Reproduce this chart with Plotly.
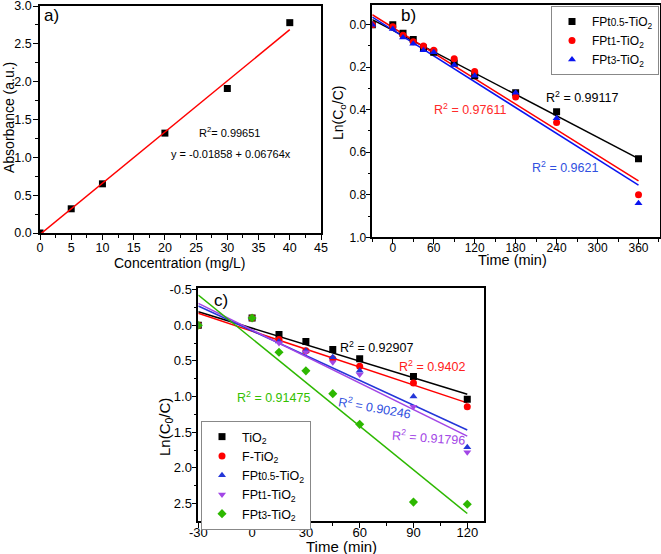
import plotly.graph_objects as go

W, H = 661, 554
FONT = "Liberation Sans, Arial, sans-serif"

# ---------------- data ----------------
# panel a: calibration
conc = [0, 5, 10, 20, 30, 40]
absorb = [0.0, 0.32, 0.65, 1.32, 1.91, 2.78]
fit_a = [-0.01858, 0.06764]          # intercept, slope
fit_a_x = [0, 40]

# panel b
time_b = [-30, 0, 15, 30, 45, 60, 90, 120, 180, 240, 360]
b_fpt05 = [0.0, 0.0, 0.04, 0.07, 0.11, 0.13, 0.18, 0.24, 0.32, 0.41, 0.63]
b_fpt1 = [0.0, 0.01, 0.05, 0.08, 0.10, 0.12, 0.16, 0.22, 0.34, 0.46, 0.80]
b_fpt3 = [0.0, 0.02, 0.06, 0.09, 0.12, 0.13, 0.19, 0.24, 0.32, 0.44, 0.84]
fit_b = {  # intercept, slope
    "FPt0.5": [0.0263, 0.001677],
    "FPt1": [0.0132, 0.002005],
    "FPt3": [0.0248, 0.002028],
}
fit_b_x = [-30, 360]
r2_b = ["0.99117", "0.97611", "0.9621"]

# panel c
time_c = [-30, 0, 15, 30, 45, 60, 90, 120]
c_tio2 = [0.0, -0.10, 0.13, 0.23, 0.34, 0.47, 0.72, 1.04]
c_ftio2 = [0.0, -0.10, 0.20, 0.36, 0.47, 0.575, 0.81, 1.145]
c_fpt05 = [0.0, -0.10, 0.23, 0.36, 0.45, 0.64, 1.00, 1.71]
c_fpt1 = [0.0, -0.10, 0.25, 0.38, 0.52, 0.69, 1.145, 1.78]
c_fpt3 = [0.0, -0.10, 0.38, 0.64, 0.96, 1.39, 2.48, 2.51]
fit_c = {  # intercept, slope
    "TiO2": [0.042, 0.00771],
    "F-TiO2": [0.085, 0.00837],
    "FPt0.5": [0.079, 0.01159],
    "FPt1": [0.066, 0.01241],
    "FPt3": [0.19, 0.02042],
}
fit_c_x = [-30, 120]
r2_c = ["0.92907", "0.9402", "0.90246", "0.91796", "0.91475"]

# tick values for panel c (labels written with a plain hyphen as in the original)
c_xticks = [-30, 0, 30, 60, 90, 120]
c_yticks = [-0.5, 0.0, 0.5, 1.0, 1.5, 2.0, 2.5]

# ---------------- helpers ----------------
def px(x):
    return x / W

def py(y):
    return 1 - y / H

def line_y(params, xs):
    return [params[0] + params[1] * x for x in xs]

BLACK = "#000000"
RED = "#FF0000"
BLUE = "#0A14F0"
BLUE_C = "#2436D8"
PURPLE = "#A246E6"
GREEN = "#2DB800"

fig = go.Figure()

# ---- panel a ----
fig.add_trace(go.Scatter(x=conc, y=absorb, mode="markers", xaxis="x", yaxis="y",
                         marker=dict(symbol="square", size=7, color=BLACK), showlegend=False))
fig.add_trace(go.Scatter(x=fit_a_x, y=line_y(fit_a, fit_a_x), mode="lines", xaxis="x", yaxis="y",
                         line=dict(color=RED, width=1.5), showlegend=False))

# ---- panel b ----
SM = "<span style='font-size:10px'>%s</span>"
lab_b = ["FPt" + SM % "0.5" + "-TiO<sub>2</sub>",
         "FPt" + SM % "1" + "-TiO<sub>2</sub>",
         "FPt" + SM % "3" + "-TiO<sub>2</sub>"]
ser_b = [b_fpt05, b_fpt1, b_fpt3]
col_b = [BLACK, RED, BLUE]
sym_b = ["square", "circle", "triangle-up"]
keys_b = ["FPt0.5", "FPt1", "FPt3"]
for i in range(3):
    fig.add_trace(go.Scatter(x=fit_b_x, y=line_y(fit_b[keys_b[i]], fit_b_x), mode="lines",
                             xaxis="x2", yaxis="y2", line=dict(color=col_b[i], width=1.5),
                             showlegend=False))
for i in range(3):
    fig.add_trace(go.Scatter(x=time_b, y=ser_b[i], mode="markers", xaxis="x2", yaxis="y2",
                             name=lab_b[i], legend="legend",
                             marker=dict(symbol=sym_b[i], size=7, color=col_b[i])))

# ---- panel c ----
lab_c = ["TiO<sub>2</sub>", "F-TiO<sub>2</sub>",
         "FPt" + SM % "0.5" + "-TiO<sub>2</sub>",
         "FPt" + SM % "1" + "-TiO<sub>2</sub>",
         "FPt" + SM % "3" + "-TiO<sub>2</sub>"]
ser_c = [c_tio2, c_ftio2, c_fpt05, c_fpt1, c_fpt3]
col_c = [BLACK, RED, BLUE_C, PURPLE, GREEN]
sym_c = ["square", "circle", "triangle-up", "triangle-down", "diamond"]
keys_c = ["TiO2", "F-TiO2", "FPt0.5", "FPt1", "FPt3"]
for i in range(5):
    fig.add_trace(go.Scatter(x=fit_c_x, y=line_y(fit_c[keys_c[i]], fit_c_x), mode="lines",
                             xaxis="x3", yaxis="y3", line=dict(color=col_c[i], width=1.5),
                             showlegend=False))
for i in range(5):
    fig.add_trace(go.Scatter(x=time_c, y=ser_c[i], mode="markers", xaxis="x3", yaxis="y3",
                             name=lab_c[i], legend="legend2",
                             marker=dict(symbol=sym_c[i], size=7, color=col_c[i])))

def axis(domain, rng, dtick, minor, fmt, fs, anchor, standoff=0, tick0=0):
    d = dict(domain=domain, range=rng, dtick=dtick, tick0=tick0, anchor=anchor,
             showgrid=False, zeroline=False, showline=True, linecolor="black", linewidth=1.5,
             mirror=True, ticks="outside", ticklen=5, tickwidth=1.3, tickcolor="black",
             automargin=False, ticklabeloverflow="allow", ticklabelstandoff=standoff,
             tickfont=dict(family=FONT, size=fs, color="black"),
             minor=dict(dtick=minor, tick0=tick0, ticks="outside", ticklen=3, tickwidth=1,
                        tickcolor="black"))
    if fmt:
        d["tickformat"] = fmt
    return d

xaxis3 = axis([px(198.3), px(484.3)], [-30, 129.5], 30, 15, None, 13, "y3", -6)
xaxis3.update(tickmode="array", tickvals=c_xticks, ticktext=["%d" % v for v in c_xticks])
yaxis3 = axis([py(521), py(288.3)], [2.745, -0.517], 0.5, 0.25, ".1f", 13, "x3", -3)
yaxis3.update(tickmode="array", tickvals=c_yticks, ticktext=["%.1f" % v for v in c_yticks])

layout = dict(
    width=W, height=H, margin=dict(l=0, r=0, t=0, b=0, pad=0, autoexpand=False),
    paper_bgcolor="white", plot_bgcolor="white",
    font=dict(family=FONT, color="black"),
    xaxis=axis([px(40), px(321)], [0, 45], 5, 2.5, None, 12.5, "y", -3),
    yaxis=axis([py(233), py(6)], [0, 3.0], 0.5, 0.25, ".1f", 12.5, "x", -1),
    xaxis2=axis([px(372.3), px(660)], [-30, 391.5], 60, 30, None, 12, "y2", -6),
    yaxis2=axis([py(237.3), py(4.7)], [1.0, -0.094], 0.2, 0.1, ".1f", 12, "x2", -3),
    xaxis3=xaxis3,
    yaxis3=yaxis3,
    legend=dict(x=px(659), y=py(6), xanchor="right", yanchor="top",
                bgcolor="white", bordercolor="#888888", borderwidth=1,
                font=dict(family=FONT, size=12, color="black"), itemwidth=30,
                tracegroupgap=0),
    legend2=dict(x=px(201), y=py(421), xanchor="left", yanchor="top",
                 bgcolor="white", bordercolor="#888888", borderwidth=1,
                 font=dict(family=FONT, size=12.5, color="black"), itemwidth=30,
                 tracegroupgap=0),
)

ann = []

def text(x, y, s, size, color="black", angle=0):
    ann.append(dict(x=px(x), y=py(y), xref="paper", yref="paper", text=s, showarrow=False,
                    xanchor="center", yanchor="middle", textangle=angle,
                    font=dict(family=FONT, size=size, color=color)))

# axis titles
text(9, 118, "Absorbance (a.u.)", 14, angle=-90)
text(180, 263, "Concentration (mg/L)", 14)
text(339, 113, "Ln(C<sub>o</sub>/C)", 14, angle=-90)
text(512, 260, "Time (min)", 14.5)
text(165, 427, "Ln(C<sub>0</sub>/C)", 15, angle=-90)
text(342, 546.5, "Time (min)", 15)

# panel labels
text(51, 16, "a)", 17)
text(408, 16, "b)", 17)
text(221, 300, "c)", 17)

# panel a texts
text(229, 132, "R<sup>2</sup>= 0.99651", 11)
text(231, 154, "y = -0.01858 + 0.06764x", 11)

# panel b texts
text(582, 97, "R<sup>2</sup> = " + r2_b[0], 12.5, BLACK)
text(470, 109, "R<sup>2</sup> = " + r2_b[1], 12.5, "#FF2A2A")
text(565, 167, "R<sup>2</sup> = " + r2_b[2], 12.5, "#3050E0")

# panel c texts
text(376.5, 347, "R<sup>2</sup> = " + r2_c[0], 12.5, BLACK)
text(432.5, 366, "R<sup>2</sup> = " + r2_c[1], 12.5, "#FF2020")
text(374, 407, "R<sup>2</sup> = " + r2_c[2], 12.5, "#3050E0", angle=10)
text(428, 437, "R<sup>2</sup> = " + r2_c[3], 12.5, "#A246E6", angle=4)
text(273, 397, "R<sup>2</sup> = " + r2_c[4], 12.5, "#33C000")

layout["annotations"] = ann
fig.update_layout(**layout)
fig.write_html("out.html")
